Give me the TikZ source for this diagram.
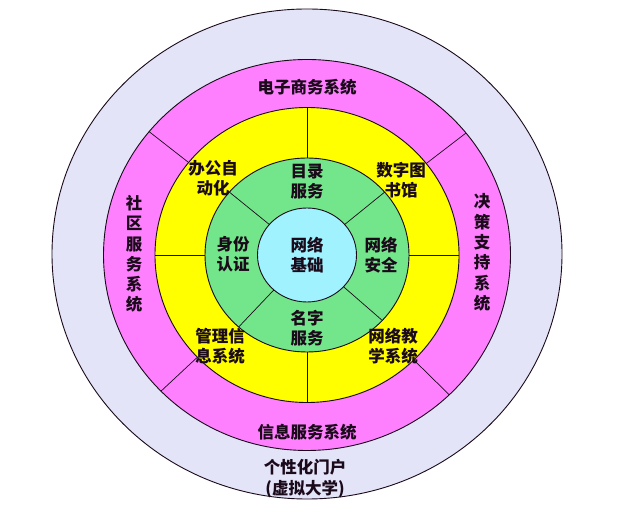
\documentclass[tikz,border=0pt]{standalone}
\usepackage{fontspec}
\setmainfont{Noto Sans CJK SC}
\definecolor{lav}{HTML}{E4E4F8}
\definecolor{mag}{HTML}{FF80FF}
\definecolor{yel}{HTML}{FFFF00}
\definecolor{grn}{HTML}{73E68C}
\definecolor{cyn}{HTML}{A0F2FF}
\definecolor{ink}{HTML}{1A0A1A}
\tikzset{
  ring/.style={draw=ink, line width=0.9pt},
  divider/.style={draw=ink, line width=0.7pt},
  lbl/.style={font=\bfseries\fontsize{16.5}{20}\selectfont, text=ink, align=center, inner sep=0pt},
  vlbl/.style={font=\bfseries\fontsize{16.5}{20.3}\selectfont, text=ink, align=center, inner sep=0pt}
}
\begin{document}
\begin{tikzpicture}[x=1pt,y=1pt]
\useasboundingbox (0,0) rectangle (620,516);
\fill[white] (0,0) rectangle (620,516);
% outer
\draw[ring, fill=lav] (307,262) ellipse [x radius=255pt, y radius=245pt];
% magenta
\draw[ring, fill=mag] (307,261) ellipse [x radius=203.5pt, y radius=195.5pt];
\begin{scope}
  \clip (307,261) ellipse [x radius=203.5pt, y radius=195.5pt];
  \begin{scope}[shift={(307,261)}]
    \draw[divider] (0,0) -- (37.5:300);
    \draw[divider] (0,0) -- (142:300);
    \draw[divider] (0,0) -- (223:300);
    \draw[divider] (0,0) -- (315.5:300);
  \end{scope}
\end{scope}
% yellow
\draw[ring, fill=yel] (307,261) ellipse [x radius=152pt, y radius=147.5pt];
\begin{scope}
  \clip (307,261) ellipse [x radius=152pt, y radius=147.5pt];
  \begin{scope}[shift={(307,261)}]
    \draw[divider] (0,0) -- (0:300);
    \draw[divider] (0,0) -- (90:300);
    \draw[divider] (0,0) -- (180:300);
    \draw[divider] (0,0) -- (270:300);
  \end{scope}
\end{scope}
% green
\draw[ring, fill=grn] (307,261) ellipse [x radius=102pt, y radius=97pt];
\begin{scope}
  \clip (307,261) ellipse [x radius=102pt, y radius=97pt];
  \begin{scope}[shift={(307,261)}]
    \draw[divider] (0,0) -- (39:300);
    \draw[divider] (0,0) -- (141:300);
    \draw[divider] (0,0) -- (226.5:300);
    \draw[divider] (0,0) -- (319:300);
  \end{scope}
\end{scope}
% cyan
\draw[ring, fill=cyn] (307,261) ellipse [x radius=49.5pt, y radius=47pt];

% labels
\node[lbl] (ecom) at (307,429) {电子商务系统};
\node[lbl] (info) at (307,84) {信息服务系统};
\node[lbl, font=\bfseries\fontsize{16.5}{21}\selectfont] (portal) at (305,37.5) {个性化门户\\(虚拟大学)};
\node[vlbl] (comm) at (134,262) {社\\区\\服\\务\\系\\统};
\node[vlbl] (deci) at (482,263.5) {决\\策\\支\\持\\系\\统};
\node[lbl] (office) at (213,338) {办公自\\动化};
\node[lbl] (lib) at (401,336) {数字图\\书馆};
\node[lbl] (dir) at (307,334) {目录\\服务};
\node[lbl] (auth) at (233,262) {身份\\认证};
\node[lbl] (net) at (307,261) {网络\\基础};
\node[lbl] (sec) at (381,261) {网络\\安全};
\node[lbl] (name) at (307,188) {名字\\服务};
\node[lbl] (mis) at (220,170) {管理信\\息系统};
\node[lbl] (edu) at (393,170) {网络教\\学系统};
\end{tikzpicture}
\end{document}
